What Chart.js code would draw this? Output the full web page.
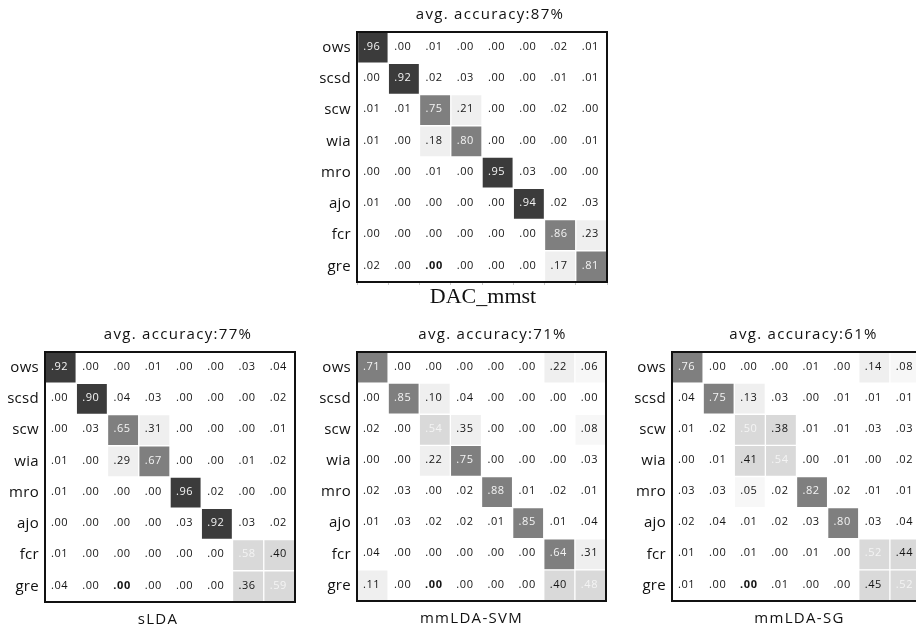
<!DOCTYPE html>
<html>
<head>
<meta charset="utf-8">
<script src="https://cdn.jsdelivr.net/npm/chart.js@4.4.0/dist/chart.umd.min.js"></script>
<style>
  html, body { margin: 0; padding: 0; background: #fff; overflow: hidden; }
  body { width: 916px; height: 630px; position: relative; }
  .cm { position: absolute; }
</style>
</head>
<body>
<div class="cm" id="boxTop"><canvas id="cTop"></canvas></div>
<div class="cm" id="boxL"><canvas id="cL"></canvas></div>
<div class="cm" id="boxM"><canvas id="cM"></canvas></div>
<div class="cm" id="boxR"><canvas id="cR"></canvas></div>
<script>
// row / column classes
const classes = ["ows", "scsd", "scw", "wia", "mro", "ajo", "fcr", "gre"];

// confusion matrices (rows = true class, cols = predicted)
const dacMmst = [
  [.96, .00, .01, .00, .00, .00, .02, .01],
  [.00, .92, .02, .03, .00, .00, .01, .01],
  [.01, .01, .75, .21, .00, .00, .02, .00],
  [.01, .00, .18, .80, .00, .00, .00, .01],
  [.00, .00, .01, .00, .95, .03, .00, .00],
  [.01, .00, .00, .00, .00, .94, .02, .03],
  [.00, .00, .00, .00, .00, .00, .86, .23],
  [.02, .00, .00, .00, .00, .00, .17, .81]
];
const sLda = [
  [.92, .00, .00, .01, .00, .00, .03, .04],
  [.00, .90, .04, .03, .00, .00, .00, .02],
  [.00, .03, .65, .31, .00, .00, .00, .01],
  [.01, .00, .29, .67, .00, .00, .01, .02],
  [.01, .00, .00, .00, .96, .02, .00, .00],
  [.00, .00, .00, .00, .03, .92, .03, .02],
  [.01, .00, .00, .00, .00, .00, .58, .40],
  [.04, .00, .00, .00, .00, .00, .36, .59]
];
const mmLdaSvm = [
  [.71, .00, .00, .00, .00, .00, .22, .06],
  [.00, .85, .10, .04, .00, .00, .00, .00],
  [.02, .00, .54, .35, .00, .00, .00, .08],
  [.00, .00, .22, .75, .00, .00, .00, .03],
  [.02, .03, .00, .02, .88, .01, .02, .01],
  [.01, .03, .02, .02, .01, .85, .01, .04],
  [.04, .00, .00, .00, .00, .00, .64, .31],
  [.11, .00, .00, .00, .00, .00, .40, .48]
];
const mmLdaSg = [
  [.76, .00, .00, .00, .01, .00, .14, .08],
  [.04, .75, .13, .03, .00, .01, .01, .01],
  [.01, .02, .50, .38, .01, .01, .03, .03],
  [.00, .01, .41, .54, .00, .01, .00, .02],
  [.03, .03, .05, .02, .82, .02, .01, .01],
  [.02, .04, .01, .02, .03, .80, .03, .04],
  [.01, .00, .01, .00, .01, .00, .52, .44],
  [.01, .00, .00, .01, .00, .00, .45, .52]
];
const accuracies = [87, 77, 71, 61];
const methods = ["DAC_mmst", "sLDA", "mmLDA-SVM", "mmLDA-SG"];

const LABEL_W = 45;   // room for the row names
const PAD = 40;       // room for title / caption
const FONT = "'Open Sans'";

// grey level for a cell
function shade(v) {
  if (v >= .89) return "#3b3b3b";
  if (v >= .60) return "#7f7f7f";
  if (v >= .36) return "#d9d9d9";
  if (v >= .10) return "#efefef";
  if (v >= .05) return "#f7f7f7";
  return "#ffffff";
}
function inkFor(v) {
  return v >= .46 ? "#f4f4f4" : "#151515";
}
function fmt(v) {
  return v.toFixed(2).replace(/^0/, "");
}

// draws numbers in the cells, the frame and the two captions
function matrixPlugin(matrix, title, caption, o) {
  return {
    id: "matrixText",
    beforeDraw(chart) {
      // the source font is a bit loosely spaced
      chart.ctx.letterSpacing = "0.3px";
    },
    afterDatasetsDraw(chart) {
      const ctx = chart.ctx;
      ctx.save();
      ctx.textAlign = "center";
      ctx.textBaseline = "middle";
      ctx.letterSpacing = "0.6px";
      chart.data.datasets.forEach((ds, c) => {
        chart.getDatasetMeta(c).data.forEach((el, r) => {
          const v = matrix[r][c];
          const p = el.getCenterPoint();
          ctx.font = (r === 7 && c === 2 ? "bold " : "") + "11px " + FONT;
          ctx.fillStyle = inkFor(v);
          ctx.fillText(fmt(v), p.x - 1, p.y - 1);
        });
      });
      ctx.restore();
    },
    afterDraw(chart) {
      const a = chart.chartArea;
      const ctx = chart.ctx;
      ctx.save();
      ctx.strokeStyle = "#111";
      ctx.lineWidth = 2;
      ctx.strokeRect(a.left, a.top, a.right - a.left, a.bottom - a.top);
      ctx.textAlign = "center";
      ctx.textBaseline = "middle";
      ctx.fillStyle = "#111";
      ctx.letterSpacing = "1.3px";
      ctx.font = "15px " + FONT;
      ctx.fillText(title, (a.left + a.right) / 2 + o.titleDx, a.top - 17);
      ctx.letterSpacing = o.captionSpacing;
      ctx.font = o.captionFont;
      ctx.fillText(caption, (a.left + a.right) / 2 + o.captionDx, a.bottom + o.captionDy);
      ctx.restore();
      ctx.letterSpacing = "0px";
    }
  };
}

function makeMatrix(divId, canvasId, matrix, idx, box, o) {
  const div = document.getElementById(divId);
  const w = LABEL_W + box.size + 10;
  const h = PAD + box.size + PAD;
  div.style.left = (box.left - LABEL_W) + "px";
  div.style.top = (box.top - PAD) + "px";
  div.style.width = w + "px";
  div.style.height = h + "px";

  // one dataset per predicted column, floating bars span [c, c+1]
  const datasets = classes.map((_, c) => ({
    label: classes[c],
    data: classes.map(() => [c, c + 1]),
    backgroundColor: classes.map((_, r) => shade(matrix[r][c])),
    borderColor: "#ffffff",
    borderWidth: 1,
    borderSkipped: false,
    grouped: false,
    barPercentage: 1,
    categoryPercentage: 1
  }));

  new Chart(document.getElementById(canvasId), {
    type: "bar",
    data: { labels: classes, datasets },
    options: {
      indexAxis: "y",
      responsive: true,
      maintainAspectRatio: false,
      animation: false,
      events: [],
      layout: { padding: { top: PAD, bottom: PAD, left: 0, right: 10 } },
      plugins: { legend: { display: false }, tooltip: { enabled: false } },
      scales: {
        x: {
          type: "linear",
          min: 0,
          max: classes.length,
          ticks: { display: false, stepSize: 1 },
          border: { display: false },
          grid: {
            display: !!o.xTicks,
            drawOnChartArea: false,
            drawTicks: true,
            tickLength: 3,
            color: "#c8c8c8"
          },
          afterFit(scale) { scale.height = 0; }
        },
        y: {
          type: "category",
          grid: { display: false, drawTicks: false },
          border: { display: false },
          ticks: { color: "#111", padding: 6, font: { family: FONT, size: 15 } },
          afterFit(scale) { scale.width = LABEL_W; }
        }
      }
    },
    plugins: [matrixPlugin(matrix, "avg. accuracy:" + accuracies[idx] + "%", methods[idx], o)]
  });
}

makeMatrix("boxTop", "cTop", dacMmst, 0, { left: 357, top: 32, size: 250 },
  { titleDx: 8, captionDx: 1, captionDy: 15, captionFont: "22px 'Liberation Serif'",
    captionSpacing: "0px", xTicks: true });
makeMatrix("boxL", "cL", sLda, 1, { left: 45, top: 352, size: 250 },
  { titleDx: 8, captionDx: -12, captionDy: 18, captionFont: "15px " + FONT, captionSpacing: "1.3px" });
makeMatrix("boxM", "cM", mmLdaSvm, 2, { left: 357, top: 352, size: 249 },
  { titleDx: 11, captionDx: -10, captionDy: 18, captionFont: "15px " + FONT, captionSpacing: "1.3px" });
makeMatrix("boxR", "cR", mmLdaSg, 3, { left: 672, top: 352, size: 249 },
  { titleDx: 7, captionDx: 3, captionDy: 18, captionFont: "15px " + FONT, captionSpacing: "1.3px" });
</script>
</body>
</html>
